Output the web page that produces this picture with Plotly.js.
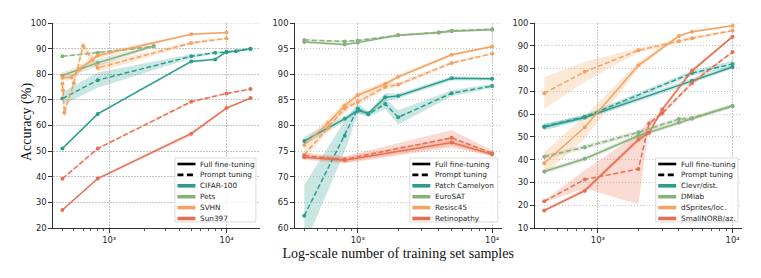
<!DOCTYPE html>
<html><head><meta charset="utf-8">
<script src="https://cdn.plot.ly/plotly-3.0.1.min.js"></script>
<style>html,body{margin:0;padding:0;background:#fff}#chart{width:761px;height:278px}</style>
</head><body><div id="chart"></div>
<script>
// ---------------- DATA ----------------
// Panel 1
const p1Names = ['CIFAR-100', 'Pets', 'SVHN', 'Sun397'];
const cifarFullX = [400, 800, 5000, 8000, 10000, 12000, 16000];
const cifarFullY = [51, 64.5, 85, 85.8, 88.8, 89, 89.9];
const cifarFullErr = [0.4, 0.4, 0.5, 0.4, 0.4, 0.3, 0.3];
const cifarPromptX = [400, 800, 5000, 8000, 10000, 16000];
const cifarPromptY = [70.5, 77.7, 87, 88.4, 88.6, 90];
const cifarPromptErr = [2.5, 3, 0.8, 0.4, 0.3, 0.3];
const petsFullX = [400, 800, 2400];
const petsFullY = [79.5, 84.5, 91];
const petsFullErr = [1.3, 1.5, 0.5];
const petsPromptX = [400, 800, 2400];
const petsPromptY = [87, 88.4, 90.8];
const petsPromptErr = [0.3, 0.3, 0.4];
const svhnFullX = [400, 480, 560, 800, 5000, 10000];
const svhnFullY = [78.6, 78.8, 82, 87.3, 95.6, 96.3];
const svhnFullErr = [1, 1, 1.5, 1, 0.3, 0.3];
const svhnPromptX = [400, 405, 415, 500, 600, 800, 5000, 10000];
const svhnPromptY = [76.4, 73.8, 65, 76.5, 91, 82.5, 92.2, 94];
const svhnPromptErr = [1, 1, 2, 1.5, 2, 1.5, 0.6, 0.5];
const sunFullX = [400, 800, 5000, 10000, 16000];
const sunFullY = [27, 39.3, 56.8, 66.8, 70.7];
const sunFullErr = [0.3, 0.4, 0.8, 0.5, 0.4];
const sunPromptX = [400, 800, 5000, 10000, 16000];
const sunPromptY = [39.2, 51, 69.3, 72.5, 74.2];
const sunPromptErr = [0.4, 0.4, 0.4, 0.3, 0.3];

// Panel 2
const p2Names = ['Patch Camelyon', 'EuroSAT', 'Resisc45', 'Retinopathy'];
const pcamX = [400, 800, 1000, 1200, 1600, 2000, 5000, 10000];
const pcamFullY = [77, 81.3, 82.9, 82.4, 85.5, 85.75, 89.2, 89.1];
const pcamFullErr = [0.8, 0.5, 0.5, 0.3, 0.8, 0.5, 0.4, 0.3];
const pcamPromptY = [62.4, 78, 83.3, 82.2, 84.2, 81.6, 86.3, 87.7];
const pcamPromptErr = [6, 3, 1, 0.5, 1, 1.4, 0.6, 0.4];
const eurosatX = [400, 800, 1000, 2000, 4000, 5000, 10000];
const eurosatFullY = [96.3, 95.8, 96.2, 97.6, 98.1, 98.4, 98.7];
const eurosatFullErr = [0.2, 0.3, 0.2, 0.2, 0.2, 0.2, 0.2];
const eurosatPromptY = [96.7, 96.4, 96.6, 97.6, 98.2, 98.5, 98.8];
const eurosatPromptErr = [0.2, 0.2, 0.2, 0.2, 0.2, 0.2, 0.2];
const resiscX = [400, 600, 800, 1000, 1600, 2000, 5000, 10000];
const resiscFullY = [76.2, 80.5, 83.9, 85.9, 88.1, 89.5, 93.8, 95.4];
const resiscFullErr = [0.8, 0.8, 0.7, 0.6, 0.5, 0.4, 0.3, 0.2];
const resiscPromptY = [74.3, 79.5, 83.3, 84.6, 87.5, 88, 92.2, 94];
const resiscPromptErr = [0.8, 0.8, 0.7, 0.6, 0.5, 0.4, 0.3, 0.2];
const retinoX = [400, 800, 5000, 10000];
const retinoFullY = [73.8, 73.2, 76.7, 74.4];
const retinoFullErr = [0.5, 0.6, 1, 0.4];
const retinoPromptY = [74.1, 73.4, 77.6, 74.6];
const retinoPromptErr = [0.6, 0.6, 1.5, 0.5];

// Panel 3
const p3Names = ['Clevr/dist.', 'DMlab', 'dSprites/loc.', 'SmallNORB/az.'];
const clevrX = [400, 800, 5000, 10000];
const clevrFullY = [54.3, 58.5, 74.6, 80.7];
const clevrFullErr = [1.5, 1, 1, 0.8];
const clevrPromptY = [54.6, 58.8, 78, 82];
const clevrPromptErr = [1, 1, 1, 1.5];
const dmlabX = [400, 800, 2000, 4000, 5000, 10000];
const dmlabFullY = [34.8, 40.4, 50.5, 56.3, 58, 63.7];
const dmlabFullErr = [1, 1, 1, 0.8, 0.8, 0.8];
const dmlabPromptY = [41.3, 45.5, 52, 57.8, 58.3, 63.5];
const dmlabPromptErr = [1, 1, 1, 0.8, 0.8, 0.8];
const dspritesX = [400, 800, 2000, 4000, 5000, 10000];
const dspritesFullY = [38.4, 54.2, 81.4, 94.3, 96.2, 98.8];
const dspritesFullErr = [5, 5, 1.5, 0.5, 0.5, 0.3];
const dspritesPromptY = [69.2, 78.6, 88, 92, 93.3, 96.7];
const dspritesPromptErr = [7, 4.4, 1, 1, 0.8, 0.5];
const norbX = [400, 800, 2000, 2400, 3000, 5000, 10000];
const norbFullY = [17.7, 26.4, 48.8, 51.8, 62, 79, 94];
const norbFullErr = [0.5, 1, 1, 1, 1, 1, 0.5];
const norbPromptY = [21.7, 31.3, 35.9, 55.9, 60.3, 73.7, 87.3];
const norbPromptErr = [0.5, 4, 15.5, 1.5, 1, 1, 0.5];

const legendStyles = ['Full fine-tuning', 'Prompt tuning'];
const xTickVals = [1000, 10000];
const xTickText = ['10³', '10⁴'];
const colors = ['#2a9d8f', '#8ab17d', '#f4a261', '#e76f51'];

// ---------------- BUILD ----------------
const panels = [
  {names: p1Names, series: [
    [cifarFullX, cifarFullY, cifarFullErr, cifarPromptX, cifarPromptY, cifarPromptErr],
    [petsFullX, petsFullY, petsFullErr, petsPromptX, petsPromptY, petsPromptErr],
    [svhnFullX, svhnFullY, svhnFullErr, svhnPromptX, svhnPromptY, svhnPromptErr],
    [sunFullX, sunFullY, sunFullErr, sunPromptX, sunPromptY, sunPromptErr]]},
  {names: p2Names, series: [
    [pcamX, pcamFullY, pcamFullErr, pcamX, pcamPromptY, pcamPromptErr],
    [eurosatX, eurosatFullY, eurosatFullErr, eurosatX, eurosatPromptY, eurosatPromptErr],
    [resiscX, resiscFullY, resiscFullErr, resiscX, resiscPromptY, resiscPromptErr],
    [retinoX, retinoFullY, retinoFullErr, retinoX, retinoPromptY, retinoPromptErr]]},
  {names: p3Names, series: [
    [clevrX, clevrFullY, clevrFullErr, clevrX, clevrPromptY, clevrPromptErr],
    [dmlabX, dmlabFullY, dmlabFullErr, dmlabX, dmlabPromptY, dmlabPromptErr],
    [dspritesX, dspritesFullY, dspritesFullErr, dspritesX, dspritesPromptY, dspritesPromptErr],
    [norbX, norbFullY, norbFullErr, norbX, norbPromptY, norbPromptErr]]}
];

function rgba(hex, a) {
  const n = parseInt(hex.slice(1), 16);
  return 'rgba(' + (n >> 16) + ',' + ((n >> 8) & 255) + ',' + (n & 255) + ',' + a + ')';
}

const bands = [], lines = [];
function addSeries(x, y, err, color, dash, xa, ya, name) {
  const up = y.map((v, i) => v + err[i]);
  const lo = y.map((v, i) => v - err[i]);
  bands.push({x: x.concat(x.slice().reverse()), y: up.concat(lo.slice().reverse()),
    xaxis: xa, yaxis: ya, mode: 'lines', fill: 'toself', fillcolor: rgba(color, 0.25),
    line: {width: 0, color: color}, hoverinfo: 'skip', showlegend: false});
  lines.push({x: x, y: y, xaxis: xa, yaxis: ya, name: name, mode: 'lines+markers',
    line: {color: color, width: 1.5, dash: dash}, marker: {color: color, size: 4},
    showlegend: false});
}
panels.forEach((p, pi) => {
  const xa = pi === 0 ? 'x' : 'x' + (pi + 1);
  const ya = pi === 0 ? 'y' : 'y' + (pi + 1);
  p.series.forEach((s, si) => {
    addSeries(s[0], s[1], s[2], colors[si], 'solid', xa, ya, p.names[si] + ' ' + legendStyles[0]);
    addSeries(s[3], s[4], s[5], colors[si], '5px,2.5px', xa, ya, p.names[si] + ' ' + legendStyles[1]);
  });
});

// ---------------- LAYOUT ----------------
const W = 761, H = 278, ML = 53, MR = 18.7, MT = 23, MB = 50;
const PW = W - ML - MR, PH = H - MT - MB;
const px2x = px => (px - ML) / PW;
const py2y = py => (H - MB - py) / PH;

const minorVals = [];
[100, 1000, 10000].forEach(d => { for (let k = 2; k <= 9; k++) minorVals.push(k * d); });

const gridColor = '#b5b5b5', axisColor = '#333333', tickFont = {family: 'DejaVu Sans', size: 8.4, color: '#262626'};
function xAxis(domain, range, extra) {
  return Object.assign({type: 'log', domain: domain, range: range,
    tickmode: 'array', tickvals: xTickVals, ticktext: xTickText,
    ticks: 'outside', ticklen: 3.5, tickwidth: 1, tickcolor: axisColor,
    showline: true, linecolor: axisColor, linewidth: 1.2,
    showgrid: true, gridcolor: gridColor, gridwidth: 0.8, griddash: '1.5px,1.5px',
    zeroline: false, tickfont: tickFont, fixedrange: true,
    minor: {tickmode: 'array', tickvals: minorVals, ticks: 'outside', ticklen: 2, tickwidth: 0.8, tickcolor: axisColor, showgrid: false}
  }, extra || {});
}
function yAxis(anchor, range, dtick, extra) {
  return Object.assign({anchor: anchor, domain: [0, 1], range: range, dtick: dtick, tick0: 0,
    ticks: 'outside', ticklen: 3.5, tickwidth: 1, tickcolor: axisColor,
    showline: true, linecolor: axisColor, linewidth: 1.2,
    showgrid: true, gridcolor: gridColor, gridwidth: 0.8, griddash: '1.5px,1.5px',
    zeroline: false, tickfont: tickFont, fixedrange: true}, extra || {});
}

const titleFont = {family: 'Liberation Serif', size: 14, color: '#111'};
const layout = {
  width: W, height: H, margin: {l: ML, r: MR, t: MT, b: MB},
  paper_bgcolor: '#fff', plot_bgcolor: '#fff', showlegend: false,
  xaxis: xAxis([0, px2x(260)], [2.522, 4.284], {anchor: 'y'}),
  xaxis2: xAxis([px2x(295), px2x(501.7)], [2.532, 4.07], {anchor: 'y2',
    title: {text: 'Log-scale number of training set samples', font: titleFont, standoff: 4}}),
  xaxis3: xAxis([px2x(535), 1], [2.532, 4.07], {anchor: 'y3'}),
  yaxis: yAxis('x', [20, 100], 10),
  yaxis2: yAxis('x2', [60, 100], 5),
  yaxis3: yAxis('x3', [10, 100], 10),
  shapes: [], annotations: [
    {xref: 'paper', yref: 'paper', x: px2x(27), y: py2y(122), textangle: -90,
     xanchor: 'center', yanchor: 'middle', showarrow: false, text: 'Accuracy (%)', font: titleFont}
  ]
};

// top grid lines (at the top range end)
[['x', 'y'], ['x2', 'y2'], ['x3', 'y3']].forEach(([xa, ya]) => {
  layout.shapes.push({type: 'line', layer: 'below', xref: xa + ' domain', x0: 0, x1: 1,
    yref: ya, y0: 100, y1: 100, line: {color: gridColor, width: 0.8, dash: '1.5px,1.5px'}});
});

// legends (drawn compactly like the matplotlib legend)
const legendLeft = [175, 410, 656], legendRight = [256, 498, 738.3];
const legTop = 158, legBottom = 222, rowStep = 10.9, rowStart = 164;
panels.forEach((p, pi) => {
  const L = legendLeft[pi], R = legendRight[pi];
  layout.shapes.push({type: 'rect', xref: 'paper', yref: 'paper',
    x0: px2x(L), x1: px2x(R), y0: py2y(legBottom), y1: py2y(legTop),
    line: {color: '#d0d0d0', width: 0.8}, fillcolor: 'rgba(255,255,255,0.85)'});
  const labels = legendStyles.concat(p.names);
  const lc = ['#000', '#000'].concat(colors);
  const dashes = ['solid', '6px,3.5px', 'solid', 'solid', 'solid', 'solid'];
  labels.forEach((lab, k) => {
    const cy = rowStart + k * rowStep;
    layout.shapes.push({type: 'line', xref: 'paper', yref: 'paper',
      x0: px2x(L + 2.5), x1: px2x(L + 20.5), y0: py2y(cy), y1: py2y(cy),
      line: {color: lc[k], width: k < 2 ? 2.6 : 3.6, dash: dashes[k]}});
    layout.annotations.push({xref: 'paper', yref: 'paper', x: px2x(L + 23.5), y: py2y(cy),
      xanchor: 'left', yanchor: 'middle', showarrow: false, text: lab,
      font: {family: 'DejaVu Sans', size: 7.3, color: '#262626'}});
  });
});

Plotly.newPlot('chart', bands.concat(lines), layout, {displayModeBar: false, staticPlot: true});
</script>
</body></html>
